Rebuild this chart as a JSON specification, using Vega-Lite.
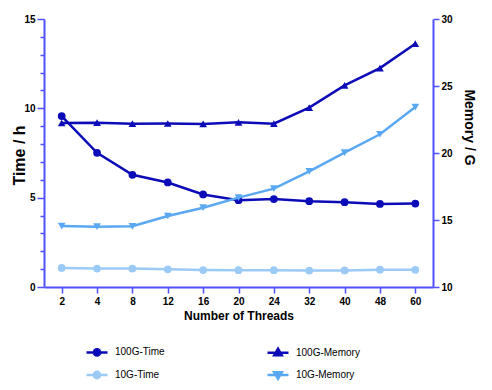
{
  "$schema": "https://vega.github.io/schema/vega-lite/v6.json",
  "width": 389,
  "height": 268,
  "autosize": {"type": "none"},
  "padding": {"left": 44, "top": 19, "right": 59, "bottom": 103},
  "config": {
    "view": {"stroke": null},
    "font": "Liberation Sans",
    "axis": {
      "grid": false,
      "domainColor": "#5050ff",
      "domainWidth": 2,
      "tickColor": "#5050ff",
      "tickWidth": 1.5,
      "labelFont": "Liberation Sans",
      "labelFontSize": 10,
      "labelFontWeight": "bold",
      "labelColor": "#000000",
      "titleFont": "Liberation Sans",
      "titleFontWeight": "bold",
      "titleColor": "#000000"
    }
  },
  "data": {
    "values": [
      {"threads": 2, "series": "100G-Time", "metric": "Time", "value": 9.57},
      {"threads": 4, "series": "100G-Time", "metric": "Time", "value": 7.51},
      {"threads": 8, "series": "100G-Time", "metric": "Time", "value": 6.28},
      {"threads": 12, "series": "100G-Time", "metric": "Time", "value": 5.85},
      {"threads": 16, "series": "100G-Time", "metric": "Time", "value": 5.18},
      {"threads": 20, "series": "100G-Time", "metric": "Time", "value": 4.86},
      {"threads": 24, "series": "100G-Time", "metric": "Time", "value": 4.92},
      {"threads": 32, "series": "100G-Time", "metric": "Time", "value": 4.8},
      {"threads": 40, "series": "100G-Time", "metric": "Time", "value": 4.75},
      {"threads": 48, "series": "100G-Time", "metric": "Time", "value": 4.65},
      {"threads": 60, "series": "100G-Time", "metric": "Time", "value": 4.67},
      {"threads": 2, "series": "10G-Time", "metric": "Time", "value": 1.07},
      {"threads": 4, "series": "10G-Time", "metric": "Time", "value": 1.03},
      {"threads": 8, "series": "10G-Time", "metric": "Time", "value": 1.03},
      {"threads": 12, "series": "10G-Time", "metric": "Time", "value": 0.99},
      {"threads": 16, "series": "10G-Time", "metric": "Time", "value": 0.95},
      {"threads": 20, "series": "10G-Time", "metric": "Time", "value": 0.94},
      {"threads": 24, "series": "10G-Time", "metric": "Time", "value": 0.94},
      {"threads": 32, "series": "10G-Time", "metric": "Time", "value": 0.92},
      {"threads": 40, "series": "10G-Time", "metric": "Time", "value": 0.93},
      {"threads": 48, "series": "10G-Time", "metric": "Time", "value": 0.97},
      {"threads": 60, "series": "10G-Time", "metric": "Time", "value": 0.96},
      {"threads": 2, "series": "100G-Memory", "metric": "Memory", "value": 22.24},
      {"threads": 4, "series": "100G-Memory", "metric": "Memory", "value": 22.26},
      {"threads": 8, "series": "100G-Memory", "metric": "Memory", "value": 22.19},
      {"threads": 12, "series": "100G-Memory", "metric": "Memory", "value": 22.2},
      {"threads": 16, "series": "100G-Memory", "metric": "Memory", "value": 22.17},
      {"threads": 20, "series": "100G-Memory", "metric": "Memory", "value": 22.29},
      {"threads": 24, "series": "100G-Memory", "metric": "Memory", "value": 22.19},
      {"threads": 32, "series": "100G-Memory", "metric": "Memory", "value": 23.39},
      {"threads": 40, "series": "100G-Memory", "metric": "Memory", "value": 25.05},
      {"threads": 48, "series": "100G-Memory", "metric": "Memory", "value": 26.34},
      {"threads": 60, "series": "100G-Memory", "metric": "Memory", "value": 28.16},
      {"threads": 2, "series": "10G-Memory", "metric": "Memory", "value": 14.55},
      {"threads": 4, "series": "10G-Memory", "metric": "Memory", "value": 14.5},
      {"threads": 8, "series": "10G-Memory", "metric": "Memory", "value": 14.53},
      {"threads": 12, "series": "10G-Memory", "metric": "Memory", "value": 15.3},
      {"threads": 16, "series": "10G-Memory", "metric": "Memory", "value": 15.92},
      {"threads": 20, "series": "10G-Memory", "metric": "Memory", "value": 16.67},
      {"threads": 24, "series": "10G-Memory", "metric": "Memory", "value": 17.34},
      {"threads": 32, "series": "10G-Memory", "metric": "Memory", "value": 18.63},
      {"threads": 40, "series": "10G-Memory", "metric": "Memory", "value": 20.03},
      {"threads": 48, "series": "10G-Memory", "metric": "Memory", "value": 21.4},
      {"threads": 60, "series": "10G-Memory", "metric": "Memory", "value": 23.43}
    ]
  },
  "encoding": {
    "x": {
      "field": "threads",
      "type": "ordinal",
      "scale": {"type": "point", "padding": 0.5},
      "axis": {
        "title": "Number of Threads",
        "titleFontSize": 12,
        "titlePadding": 4,
        "labelAngle": 0,
        "tickSize": 6,
        "labelPadding": 3
      }
    },
    "color": {
      "field": "series",
      "type": "nominal",
      "scale": {
        "domain": ["100G-Time", "10G-Time", "100G-Memory", "10G-Memory"],
        "range": ["#0b0bb8", "#9ccaf6", "#0b0bb8", "#5aa8f2"]
      },
      "legend": {
        "title": null,
        "orient": "none",
        "legendX": 41,
        "legendY": 321,
        "columns": 2,
        "direction": "vertical",
        "columnPadding": 97,
        "rowPadding": 2,
        "labelFont": "Liberation Sans",
        "labelFontSize": 10,
        "labelColor": "#000000",
        "labelOffset": 6,
        "symbolSize": 441,
        "symbolStrokeWidth": 2.5,
        "encode": {
          "symbols": {
            "update": {
              "shape": {"signal": "datum.value === '100G-Memory' ? 'M-1,0H1M-0.36,0.26L0,-0.36L0.36,0.26Z' : (datum.value === '10G-Memory' ? 'M-1,0H1M-0.36,-0.26L0,0.36L0.36,-0.26Z' : 'M-1,0H1M-0.3,0A0.3,0.3,0,1,1,0.3,0A0.3,0.3,0,1,1,-0.3,0Z')"},
              "fill": {"signal": "scale('color', datum.value)"},
              "stroke": {"signal": "scale('color', datum.value)"},
              "opacity": {"value": 1},
              "fillOpacity": {"value": 1},
              "strokeWidth": {"value": 2.5}
            }
          }
        }
      }
    }
  },
  "layer": [
    {
      "transform": [{"filter": "datum.metric === 'Time'"}],
      "encoding": {
        "y": {
          "field": "value",
          "type": "quantitative",
          "scale": {"domain": [0, 15], "nice": false},
          "axis": {
            "orient": "left",
            "title": "Time / h",
            "titleFontSize": 16,
            "titleBaseline": "middle",
            "titleX": -25,
            "titleY": 136,
            "values": [0, 1, 2, 3, 4, 5, 6, 7, 8, 9, 10, 11, 12, 13, 14, 15],
            "labelExpr": "datum.value % 5 === 0 ? datum.label : ''",
            "tickSize": {"condition": {"test": "datum.value % 5 === 0", "value": 7}, "value": 4},
            "labelPadding": 2
          }
        }
      },
      "layer": [
        {"mark": {"type": "line", "strokeWidth": 2.5}},
        {
          "mark": {"type": "point", "filled": true, "size": 60, "opacity": 1},
          "encoding": {
            "shape": {"value": "circle"}
          }
        }
      ]
    },
    {
      "transform": [{"filter": "datum.metric === 'Memory'"}],
      "encoding": {
        "y": {
          "field": "value",
          "type": "quantitative",
          "scale": {"domain": [10, 30], "nice": false, "zero": false},
          "axis": {
            "orient": "right",
            "title": "Memory / G",
            "titleFontSize": 14,
            "titleBaseline": "middle",
            "titleX": 35,
            "titleY": 108,
            "values": [10, 15, 20, 25, 30],
            "tickSize": 6,
            "labelPadding": 2
          }
        }
      },
      "layer": [
        {"mark": {"type": "line", "strokeWidth": 2.5}},
        {
          "mark": {"type": "point", "filled": true, "size": 60, "opacity": 1},
          "encoding": {
            "shape": {
              "condition": {"test": "datum.series === '100G-Memory'", "value": "triangle-up"},
              "value": "triangle-down"
            }
          }
        }
      ]
    }
  ],
  "resolve": {"scale": {"y": "independent"}}
}
